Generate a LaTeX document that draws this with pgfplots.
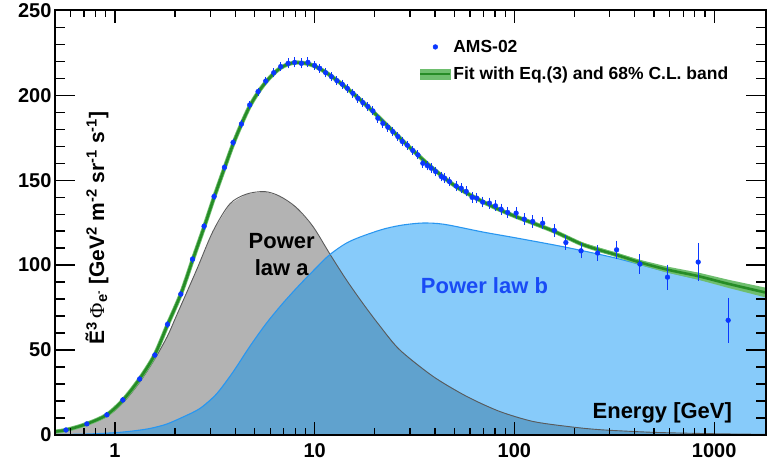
\documentclass[border=0pt]{standalone}
\usepackage{fontspec}
\setmainfont{Liberation Sans}
\newfontfamily\serifg{Liberation Serif}
\usepackage{pgfplots}
\usepackage{pgfplotstable}
\pgfplotsset{compat=1.18}

\definecolor{grayfill}{RGB}{179,179,179}
\definecolor{grayline}{RGB}{90,90,90}
\definecolor{bfill}{RGB}{135,203,250}
\definecolor{bline}{RGB}{40,150,240}
\definecolor{ovfill}{RGB}{96,162,206}
\definecolor{fitgreen}{RGB}{38,140,38}
\definecolor{bandgreen}{RGB}{110,190,110}
\definecolor{ptblue}{RGB}{10,55,255}
\definecolor{txtblue}{RGB}{25,75,245}
\definecolor{tickcol}{RGB}{0,0,0}

% AMS-02 points: energy, E^3 flux, error
\pgfplotstableread{
x y e
0.569 2.9 0.1
0.724 6.5 0.2
0.912 11.8 0.3
1.096 20.6 0.4
1.33 32.9 0.5
1.585 47.0 0.6
1.834 65.1 0.7
2.138 82.9 0.8
2.446 103.5 0.9
2.796 122.9 1.0
3.137 140.4 1.0
3.536 157.6 1.0
3.905 172.2 1.0
4.30 183.1 1.0
4.73 194.3 1.0
5.21 202.2 1.2
5.69 208.4 1.2
6.24 213.3 1.5
6.76 216.9 1.5
7.36 218.8 1.8
7.94 219.4 1.8
8.58 218.8 1.8
9.26 219.4 1.8
10.0 217.6 1.5
10.6 215.9 1.5
11.35 213.3 1.5
12.12 211.0 1.5
12.93 208.6 1.5
13.76 206.5 1.5
14.57 204.1 1.5
15.54 201.2 1.5
16.46 198.2 1.5
17.44 195.7 1.5
18.48 193.4 1.5
19.57 190.8 1.5
20.73 186.5 1.5
21.96 183.5 1.5
23.26 181.2 1.5
24.64 178.6 1.5
26.1 175.7 1.5
27.45 172.8 1.5
29.1 170.6 1.5
31.0 167.5 1.5
32.9 164.9 1.5
34.8 160.0 1.6
36.6 158.6 1.6
38.3 157.1 1.6
40.3 155.1 1.6
43.0 152.2 1.7
44.7 151.2 1.7
47.3 149.2 1.7
51.1 146.6 1.8
54.2 145.3 1.8
57.4 143.4 1.8
61.4 139.9 1.9
64.8 139.4 1.9
69.4 137.1 2.0
75.0 136.5 2.0
80.4 134.9 2.0
85.8 132.9 2.1
92.6 131.0 2.1
102 130.6 2.2
112 127.1 2.3
123.5 125.7 2.4
138.5 124.7 2.5
158.5 120.5 2.6
181 113.3 3.0
215.6 108.4 3.2
261 107.1 3.4
324.8 109.0 4.3
425 100.6 4.5
584 92.9 6.2
832 101.8 10.1
1175 67.5 12.0
}\amsdata

% fit
\pgfplotstableread{
x y
0.49 1.8
0.57 2.9
0.72 6.4
0.91 11.8
1.1 20.6
1.33 33
1.58 47
1.83 64.5
2.14 83
2.45 103
2.8 122.5
3.14 140
3.54 157.3
3.9 171
4.3 183
4.73 193.5
5.2 201.5
5.7 207.8
6.24 212.8
6.76 216.2
7.36 218.3
7.94 219.2
8.58 219.2
9.26 218.5
10 217.2
11.35 213.6
12.93 208.8
14.57 204
16.46 198.6
18.48 193.2
20.73 187.6
23.26 181.8
26.1 176
29.1 170.6
32.9 164.8
36.6 159.8
40.3 155.6
47.3 149
54.2 144.3
64.8 139.2
75 135.4
85.8 132.2
102 128.5
123.5 124.8
158.5 119.8
215.6 112.5
261 109.2
324.8 106
425 101.6
584 97.3
832 93.5
1175 89
1862 83.5
}\fitdata

% 68% band where it widens (upper edge out, lower edge back)
\pgfplotstableread{
x y
215.6 113.5
324.8 107.3
425 103.1
584 99.1
832 95.6
1175 91.4
1862 86.4
1862 80.6
1175 86.6
832 91.4
584 95.5
425 100.1
324.8 104.7
215.6 111.5
}\banddata

\pgfplotstableread{
x y
0.49 1.5
0.57 2.5
0.72 5.9
0.91 10.8
1.1 19
1.33 31
1.58 44.5
1.83 58
2.03 70
2.56 97
3.1 120
3.76 136
4.55 141.8
5.62 143.3
6.68 140.6
8.08 134
9.8 122.8
11.95 106.3
14.4 91.4
17.4 77.6
21.1 64.5
26.6 50.2
39.1 34.5
57.4 22.8
84 13.9
123 8
181 5.1
266 3.1
500 1.5
1000 0.7
1862 0.3
}\plawa

\pgfplotstableread{
x y
0.49 0.2
0.72 0.5
1.0 1.3
1.23 2.3
1.5 3.8
1.81 6.3
2.19 10.5
2.66 15.5
3.22 24
3.9 37
4.73 52
5.73 65.7
6.94 77.6
8.41 88.4
10.2 98.5
11.95 106.3
15 114
21.1 120.5
26.6 123.3
33.5 124.7
40 124.6
47.3 123.5
69.4 119.5
102 116
181 110.5
322 104.1
570 96.3
1013 89.5
1862 82
}\plawb

% lower of the two components, where they overlap
\pgfplotstableread{
x y
0.49 0.2
0.72 0.5
1.0 1.3
1.23 2.3
1.5 3.8
1.81 6.3
2.19 10.5
2.66 15.5
3.22 24
3.9 37
4.73 52
5.73 65.7
6.94 77.6
8.41 88.4
10.2 98.5
11.95 106.3
14.4 91.4
17.4 77.6
21.1 64.5
26.6 50.2
39.1 34.5
57.4 22.8
84 13.9
123 8
181 5.1
266 3.1
500 1.5
1000 0.7
1862 0.3
}\lowerab

\begin{document}
\begin{tikzpicture}
\path (-55pt,-34pt) rectangle (712pt,432pt);
\begin{axis}[
  at={(0pt,0pt)}, anchor=south west,
  scale only axis, width=712pt, height=425pt,
  xmode=log, xmin=0.501, xmax=1820, ymin=0, ymax=250,
  axis on top,
  xtick={1,10,100,1000}, xticklabels={1,10,100,1000},
  ytick={0,50,100,150,200,250},
  major tick length=0pt, minor tick length=0pt,
  ticklabel style={font=\bfseries\fontsize{20}{24}\selectfont},
  xticklabel style={yshift=-5pt},
  every outer x axis line/.append style={line width=1.8pt},
  every outer y axis line/.append style={line width=1.8pt},
  /pgf/number format/assume math mode=true,
  unbounded coords=jump,
  legend style={at={(axis description cs:0.508,0.94)}, anchor=north west,
    draw=none, fill=none, row sep=9pt,
    font=\bfseries\fontsize{17.5}{20}\selectfont},
  legend cell align=left,
]
% component fills
\addplot[draw=none, fill=grayfill, forget plot] table {\plawa} \closedcycle;
\addplot[draw=none, fill=bfill, forget plot] table {\plawb} \closedcycle;
\addplot[draw=none, fill=ovfill, forget plot] table {\lowerab} \closedcycle;
\addplot[grayline, line width=0.9pt, smooth, forget plot] table {\plawa};
\addplot[bline, line width=1.1pt, smooth, forget plot] table {\plawb};

% fit and 68% band
\addplot[draw=none, fill=bandgreen, forget plot] table {\banddata};
\addplot[bandgreen, line width=4.2pt, smooth, forget plot] table {\fitdata};
\addplot[fitgreen, line width=2.6pt, smooth, forget plot] table {\fitdata};

% data
\addplot[only marks, mark=*, mark size=2.4pt, ptblue, forget plot,
  error bars/.cd, y dir=both, y explicit,
  error bar style={line width=1pt, ptblue},
  error mark options={mark size=2pt, line width=1pt, ptblue}]
  table[x=x, y=y, y error=e] {\amsdata};

% ROOT-style inward ticks as plotted segments (13pt/7pt on x, 20pt/10pt on y)
\addplot[tickcol, line width=1.3pt, forget plot] coordinates {
(1,0)(1,7.65)(1,nan)(10,0)(10,7.65)(10,nan)(100,0)(100,7.65)(100,nan)(1000,0)(1000,7.65)(1000,nan)
(1,250)(1,242.35)(1,nan)(10,250)(10,242.35)(10,nan)(100,250)(100,242.35)(100,nan)(1000,250)(1000,242.35)(1000,nan)
};
\addplot[tickcol, line width=1.3pt, forget plot] coordinates {
(0.6,0)(0.6,4.12)(0.6,nan)(0.7,0)(0.7,4.12)(0.7,nan)(0.8,0)(0.8,4.12)(0.8,nan)(0.9,0)(0.9,4.12)(0.9,nan)
(2,0)(2,4.12)(2,nan)(3,0)(3,4.12)(3,nan)(4,0)(4,4.12)(4,nan)(5,0)(5,4.12)(5,nan)
(6,0)(6,4.12)(6,nan)(7,0)(7,4.12)(7,nan)(8,0)(8,4.12)(8,nan)(9,0)(9,4.12)(9,nan)
(20,0)(20,4.12)(20,nan)(30,0)(30,4.12)(30,nan)(40,0)(40,4.12)(40,nan)(50,0)(50,4.12)(50,nan)
(60,0)(60,4.12)(60,nan)(70,0)(70,4.12)(70,nan)(80,0)(80,4.12)(80,nan)(90,0)(90,4.12)(90,nan)
(200,0)(200,4.12)(200,nan)(300,0)(300,4.12)(300,nan)(400,0)(400,4.12)(400,nan)(500,0)(500,4.12)(500,nan)
(600,0)(600,4.12)(600,nan)(700,0)(700,4.12)(700,nan)(800,0)(800,4.12)(800,nan)(900,0)(900,4.12)(900,nan)
};
\addplot[tickcol, line width=1.3pt, forget plot] coordinates {
(0.6,250)(0.6,245.88)(0.6,nan)(0.7,250)(0.7,245.88)(0.7,nan)(0.8,250)(0.8,245.88)(0.8,nan)(0.9,250)(0.9,245.88)(0.9,nan)
(2,250)(2,245.88)(2,nan)(3,250)(3,245.88)(3,nan)(4,250)(4,245.88)(4,nan)(5,250)(5,245.88)(5,nan)
(6,250)(6,245.88)(6,nan)(7,250)(7,245.88)(7,nan)(8,250)(8,245.88)(8,nan)(9,250)(9,245.88)(9,nan)
(20,250)(20,245.88)(20,nan)(30,250)(30,245.88)(30,nan)(40,250)(40,245.88)(40,nan)(50,250)(50,245.88)(50,nan)
(60,250)(60,245.88)(60,nan)(70,250)(70,245.88)(70,nan)(80,250)(80,245.88)(80,nan)(90,250)(90,245.88)(90,nan)
(200,250)(200,245.88)(200,nan)(300,250)(300,245.88)(300,nan)(400,250)(400,245.88)(400,nan)(500,250)(500,245.88)(500,nan)
(600,250)(600,245.88)(600,nan)(700,250)(700,245.88)(700,nan)(800,250)(800,245.88)(800,nan)(900,250)(900,245.88)(900,nan)
};
\addplot[tickcol, line width=1.3pt, forget plot] coordinates {
(0.501,50)(0.6307,50)(0.501,nan)(0.501,100)(0.6307,100)(0.501,nan)(0.501,150)(0.6307,150)(0.501,nan)(0.501,200)(0.6307,200)(0.501,nan)
(1820,50)(1445.7,50)(1820,nan)(1820,100)(1445.7,100)(1820,nan)(1820,150)(1445.7,150)(1820,nan)(1820,200)(1445.7,200)(1820,nan)
};
\addplot[tickcol, line width=1.3pt, forget plot] coordinates {
(0.501,10)(0.5621,10)(0.501,nan)(0.501,20)(0.5621,20)(0.501,nan)(0.501,30)(0.5621,30)(0.501,nan)(0.501,40)(0.5621,40)(0.501,nan)
(0.501,60)(0.5621,60)(0.501,nan)(0.501,70)(0.5621,70)(0.501,nan)(0.501,80)(0.5621,80)(0.501,nan)(0.501,90)(0.5621,90)(0.501,nan)
(0.501,110)(0.5621,110)(0.501,nan)(0.501,120)(0.5621,120)(0.501,nan)(0.501,130)(0.5621,130)(0.501,nan)(0.501,140)(0.5621,140)(0.501,nan)
(0.501,160)(0.5621,160)(0.501,nan)(0.501,170)(0.5621,170)(0.501,nan)(0.501,180)(0.5621,180)(0.501,nan)(0.501,190)(0.5621,190)(0.501,nan)
(0.501,210)(0.5621,210)(0.501,nan)(0.501,220)(0.5621,220)(0.501,nan)(0.501,230)(0.5621,230)(0.501,nan)(0.501,240)(0.5621,240)(0.501,nan)
(1820,10)(1622,10)(1820,nan)(1820,20)(1622,20)(1820,nan)(1820,30)(1622,30)(1820,nan)(1820,40)(1622,40)(1820,nan)
(1820,60)(1622,60)(1820,nan)(1820,70)(1622,70)(1820,nan)(1820,80)(1622,80)(1820,nan)(1820,90)(1622,90)(1820,nan)
(1820,110)(1622,110)(1820,nan)(1820,120)(1622,120)(1820,nan)(1820,130)(1622,130)(1820,nan)(1820,140)(1622,140)(1820,nan)
(1820,160)(1622,160)(1820,nan)(1820,170)(1622,170)(1820,nan)(1820,180)(1622,180)(1820,nan)(1820,190)(1622,190)(1820,nan)
(1820,210)(1622,210)(1820,nan)(1820,220)(1622,220)(1820,nan)(1820,230)(1622,230)(1820,nan)(1820,240)(1622,240)(1820,nan)
};

\addlegendimage{legend image code/.code={
  \path (0pt,0pt) (30pt,0pt);
  \fill[ptblue] (15pt,0pt) circle (2.4pt);}}
\addlegendentry{AMS-02}
\addlegendimage{legend image code/.code={
  \fill[bandgreen] (0pt,-5pt) rectangle (30pt,5pt);
  \draw[fitgreen, line width=2pt] (0pt,0pt) -- (30pt,0pt);}}
\addlegendentry{Fit with Eq.(3) and 68\% C.L. band}

\node[font=\bfseries\fontsize{22}{27}\selectfont, align=center] at (axis cs:6.84,106) {Power\\law a};
\node[font=\bfseries\fontsize{22}{24}\selectfont, text=txtblue] at (axis cs:70.8,88) {Power law b};
\node[font=\bfseries\fontsize{22}{24}\selectfont] at (axis cs:550,13) {Energy [GeV]};
\node[rotate=90, font=\bfseries\fontsize{21}{24}\selectfont] at (axis cs:0.813,121.8)
  {Ẽ\textsuperscript{3}\,{\serifg\mdseries Φ}\textsubscript{e\textsuperscript{-}} [GeV\textsuperscript{2} m\textsuperscript{-2} sr\textsuperscript{-1} s\textsuperscript{-1}]};
\end{axis}
\end{tikzpicture}
\end{document}
